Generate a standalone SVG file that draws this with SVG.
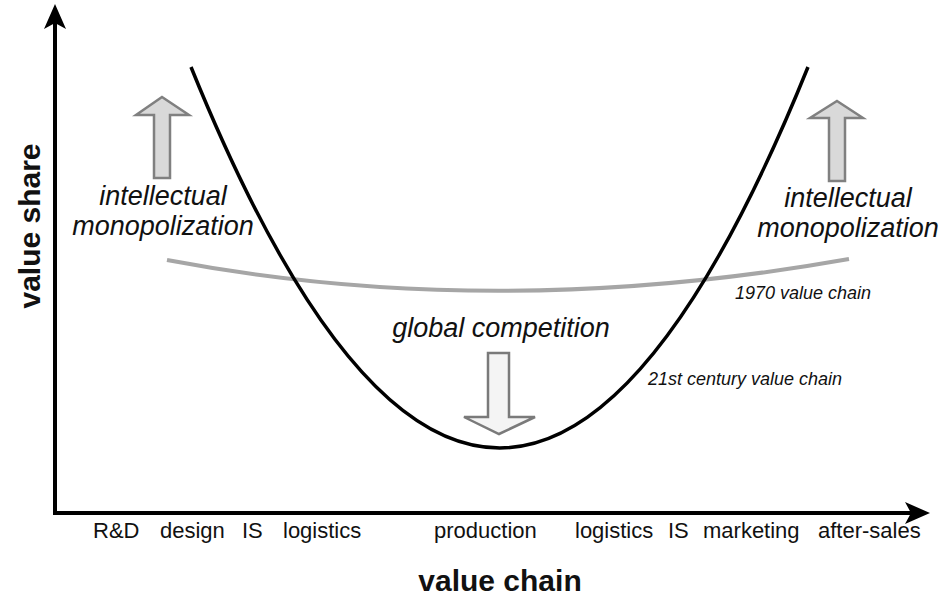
<svg xmlns="http://www.w3.org/2000/svg" width="940" height="602" viewBox="0 0 940 602">
<style>
.lbl{font-family:"Liberation Sans",Arial,sans-serif;font-size:22px;fill:#111}
.it{font-family:"Liberation Sans",Arial,sans-serif;font-style:italic;font-size:27px;fill:#111}
.sm{font-family:"Liberation Sans",Arial,sans-serif;font-style:italic;font-size:18px;fill:#111}
.ax{font-family:"Liberation Sans",Arial,sans-serif;font-weight:bold;font-size:30px;fill:#111}
.up{fill:#d9d9d9;stroke:#808080;stroke-width:2.5;stroke-linejoin:miter}
.down{fill:#f4f4f4;stroke:#7a7a7a;stroke-width:2.5}
</style>
<rect width="940" height="602" fill="#fff"/>
<g id="connectors">
<path d="M55,513 L55,22" fill="none" stroke="#000" stroke-width="4"/>
<polygon points="55,4 66,29 55,23 44,29" fill="#000"/>
<path d="M53,513 L912,513" fill="none" stroke="#000" stroke-width="4"/>
<polygon points="930,513 905,524 911,513 905,502" fill="#000"/>
<path id="curve1970" d="M167,260 Q495,322 849,259" fill="none" stroke="#a6a6a6" stroke-width="4"/>
<path id="curve21" d="M191,67 Q500,829 808,67" fill="none" stroke="#000" stroke-width="3.5"/>
</g>
<g id="arrow-left"><polygon class="up" points="162,97 189,115 170,115 170,178 154,178 154,115 136,115"/></g>
<g id="arrow-right"><polygon class="up" points="837,101 863,118 845,118 845,181 829,181 829,118 810,118"/></g>
<g id="arrow-down"><polygon class="down" points="488,353 509,353 509,417 535,417 499,434 464,417 488,417"/></g>
<g id="label-left"><text class="it" x="163" y="205" text-anchor="middle">intellectual</text><text class="it" x="163" y="235" text-anchor="middle">monopolization</text></g>
<g id="label-right"><text class="it" x="848" y="207" text-anchor="middle">intellectual</text><text class="it" x="848" y="237" text-anchor="middle">monopolization</text></g>
<g id="label-global"><text class="it" x="501" y="337" text-anchor="middle">global competition</text></g>
<g id="label-1970"><text class="sm" x="735" y="299">1970 value chain</text></g>
<g id="label-21"><text class="sm" x="648" y="385">21st century value chain</text></g>
<g id="xlabels">
<text class="lbl" x="93" y="538">R&amp;D</text>
<text class="lbl" x="160" y="538">design</text>
<text class="lbl" x="242" y="538">IS</text>
<text class="lbl" x="283" y="538">logistics</text>
<text class="lbl" x="434" y="538">production</text>
<text class="lbl" x="575" y="538">logistics</text>
<text class="lbl" x="668" y="538">IS</text>
<text class="lbl" x="703" y="538">marketing</text>
<text class="lbl" x="818" y="538">after-sales</text>
</g>
<g id="axis-x-title"><text class="ax" x="500" y="591" text-anchor="middle">value chain</text></g>
<g id="axis-y-title"><text class="ax" transform="translate(40,226) rotate(-90)" text-anchor="middle">value share</text></g>
</svg>
